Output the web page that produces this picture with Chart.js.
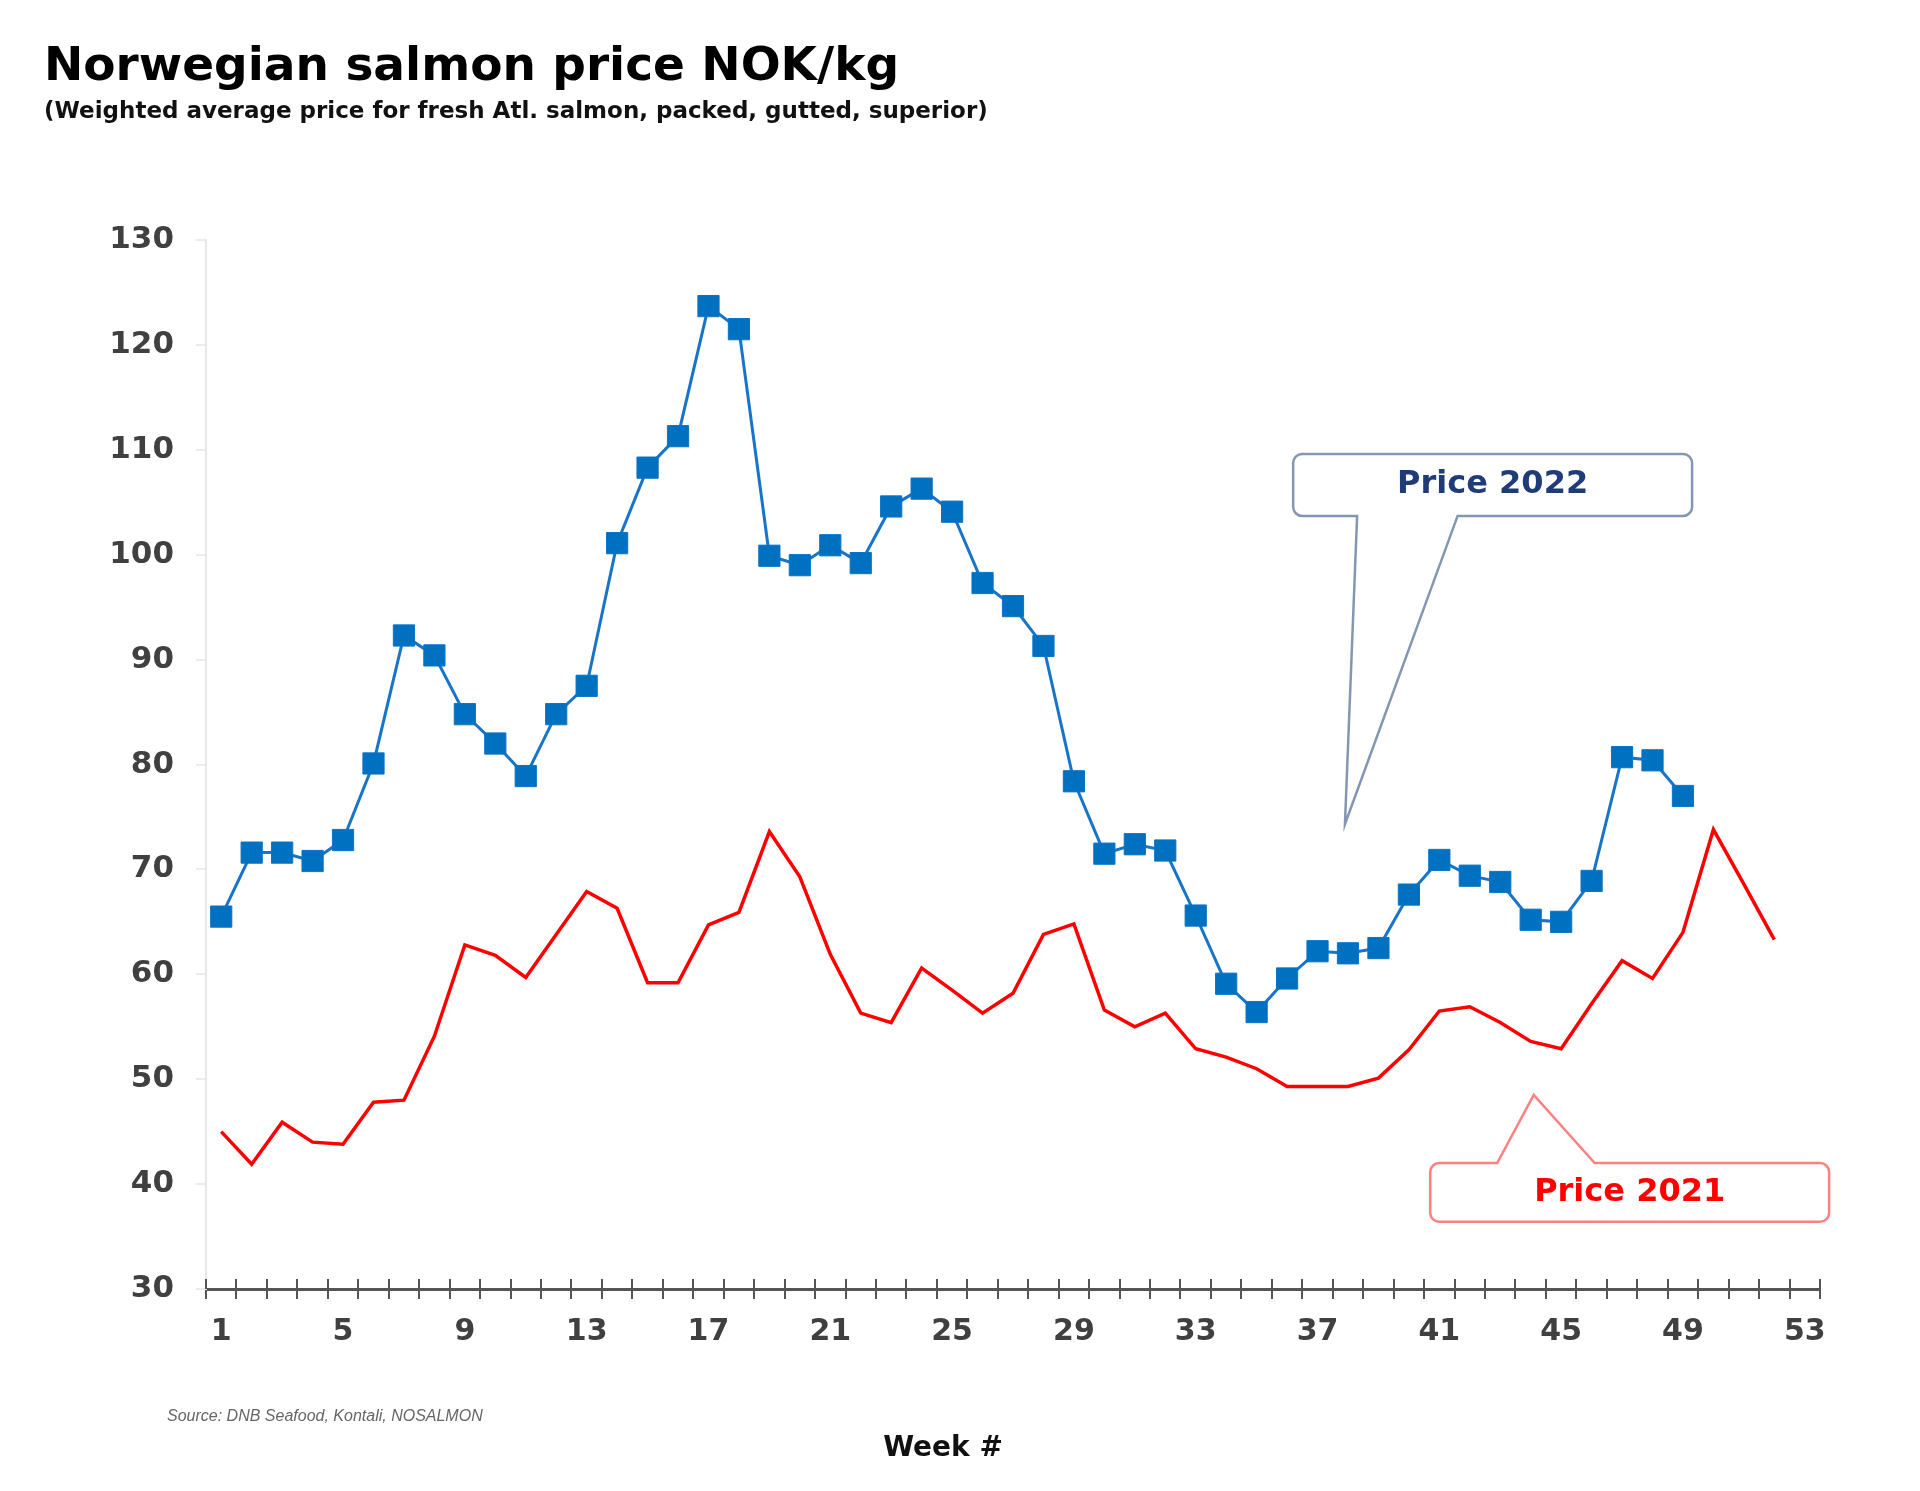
<!DOCTYPE html>
<html>
<head>
<meta charset="utf-8">
<script src="https://cdn.jsdelivr.net/npm/chart.js@4.4.1/dist/chart.umd.min.js"></script>
<style>
  html, body { margin: 0; padding: 0; background: #fff; }
  #wrap { width: 1920px; height: 1491px; position: relative; }
</style>
</head>
<body>
<div id="wrap"><canvas id="salmonChart"></canvas></div>
<script>
    // week labels on the x axis (only every 4th one is shown)
    const weeks = ['1', '2', '3', '4', '5', '6', '7', '8', '9', '10', '11', '12', '13', '14', '15', '16', '17', '18',
        '19', '20', '21', '22', '23', '24', '25', '26', '27', '28', '29', '30', '31', '32', '33', '34', '35', '36',
        '37', '38', '39', '40', '41', '42', '43', '44', '45', '46', '47', '48', '49', '50', '51', '52', '53'];

    // NOK/kg, weeks 1-49 of 2022
    const price2022 = [65.5, 71.6, 71.6, 70.8, 72.8, 80.1, 92.3, 90.4, 84.8, 82.0, 78.9, 84.8, 87.5, 101.1, 108.3,
        111.3, 123.7, 121.5, 99.9, 99.0, 100.9, 99.2, 104.6, 106.3, 104.1, 97.3, 95.1, 91.3, 78.4, 71.5, 72.4, 71.8,
        65.6, 59.1, 56.4, 59.6, 62.2, 62.0, 62.5, 67.6, 70.9, 69.4, 68.8, 65.2, 65.0, 68.9, 80.7, 80.4, 77.0];

    // NOK/kg, weeks 1-52 of 2021
    const price2021 = [45.0, 41.9, 45.9, 44.0, 43.8, 47.8, 48.0, 54.1, 62.8, 61.8, 59.7, 63.8, 67.9, 66.3, 59.2,
        59.2, 64.7, 65.9, 73.6, 69.3, 61.9, 56.3, 55.4, 60.6, 58.5, 56.3, 58.2, 63.8, 64.8, 56.6, 55.0, 56.3, 52.9,
        52.1, 51.0, 49.3, 49.3, 49.3, 50.1, 52.8, 56.5, 56.9, 55.4, 53.6, 52.9, 57.2, 61.3, 59.6, 64.0, 73.8, 68.6, 63.3];

    const yTicks = [30, 40, 50, 60, 70, 80, 90, 100, 110, 120, 130];

    // callout boxes, in week / price units
    const callouts = [
        { text: 'Price 2022', color: '#1f3c78', stroke: '#8497b0',
          box: [36.2, 109.6, 49.3, 103.7], base: [38.3, 41.6], tip: [37.9, 74.3], side: 'bottom' },
        { text: 'Price 2021', color: '#ff0000', stroke: '#ff8080',
          box: [40.7, 42.0, 53.8, 36.4], base: [42.9, 46.1], tip: [44.1, 48.5], side: 'top' }
    ];

    const FONT = "'DejaVu Sans', Verdana, sans-serif";

    function weekPx(chart, w) {
        const s = chart.scales.x;
        const p0 = s.getPixelForValue(0), p1 = s.getPixelForValue(1);
        return p0 + (w - 1) * (p1 - p0);
    }

    const extras = {
        id: 'extras',
        afterDatasetsDraw(chart) {
            const ctx = chart.ctx;
            const y = chart.scales.y;
            const area = chart.chartArea;

            // upper half of the x axis tick marks
            ctx.save();
            ctx.strokeStyle = '#555';
            ctx.lineWidth = 2;
            for (let i = 0; i <= weeks.length; i++) {
                const x = Math.round(weekPx(chart, i + 0.5));
                ctx.beginPath();
                ctx.moveTo(x, area.bottom);
                ctx.lineTo(x, area.bottom - 10);
                ctx.stroke();
            }
            ctx.restore();

            // callouts
            callouts.forEach(c => {
                const x0 = weekPx(chart, c.box[0]), x1 = weekPx(chart, c.box[2]);
                const y0 = y.getPixelForValue(c.box[1]), y1 = y.getPixelForValue(c.box[3]);
                const b0 = weekPx(chart, c.base[0]), b1 = weekPx(chart, c.base[1]);
                const tx = weekPx(chart, c.tip[0]), ty = y.getPixelForValue(c.tip[1]);
                const r = 9;
                ctx.save();
                ctx.beginPath();
                ctx.moveTo(x0 + r, y0);
                if (c.side === 'top') {
                    ctx.lineTo(b0, y0);
                    ctx.lineTo(tx, ty);
                    ctx.lineTo(b1, y0);
                }
                ctx.lineTo(x1 - r, y0);
                ctx.arcTo(x1, y0, x1, y0 + r, r);
                ctx.lineTo(x1, y1 - r);
                ctx.arcTo(x1, y1, x1 - r, y1, r);
                if (c.side === 'bottom') {
                    ctx.lineTo(b1, y1);
                    ctx.lineTo(tx, ty);
                    ctx.lineTo(b0, y1);
                }
                ctx.lineTo(x0 + r, y1);
                ctx.arcTo(x0, y1, x0, y1 - r, r);
                ctx.lineTo(x0, y0 + r);
                ctx.arcTo(x0, y0, x0 + r, y0, r);
                ctx.closePath();
                ctx.fillStyle = '#fff';
                ctx.fill();
                ctx.strokeStyle = c.stroke;
                ctx.lineWidth = 2.5;
                ctx.stroke();
                ctx.fillStyle = c.color;
                ctx.font = 'bold 32px ' + FONT;
                ctx.textAlign = 'center';
                ctx.textBaseline = 'middle';
                ctx.fillText(c.text, (x0 + x1) / 2, (y0 + y1) / 2);
                ctx.restore();
            });

            // source note and axis caption
            ctx.save();
            ctx.fillStyle = '#666';
            ctx.font = "italic 16px 'Liberation Sans', Arial, sans-serif";
            ctx.textBaseline = 'middle';
            ctx.fillText('Source: DNB Seafood, Kontali, NOSALMON', 167, 1417);
            ctx.fillStyle = '#111';
            ctx.font = 'bold 28px ' + FONT;
            ctx.textAlign = 'center';
            ctx.fillText('Week #', 943, 1449);
            ctx.restore();
        }
    };

    document.addEventListener('DOMContentLoaded', function () {
        const ctx = document.getElementById('salmonChart');
        new Chart(ctx, {
            type: 'line',
            data: {
                labels: weeks,
                datasets: [{
                    label: 'Price 2021',
                    data: price2021,
                    borderColor: '#ff0000',
                    borderWidth: 3.5,
                    pointRadius: 0,
                    tension: 0
                }, {
                    label: 'Price 2022',
                    data: price2022,
                    borderColor: '#1874c8',
                    borderWidth: 3,
                    pointStyle: 'rect',
                    pointRadius: 15,
                    pointBackgroundColor: '#0070c0',
                    pointBorderColor: '#0a74c6',
                    pointBorderWidth: 1,
                    tension: 0
                }]
            },
            options: {
                responsive: true,
                maintainAspectRatio: false,
                animation: false,
                layout: { padding: { left: 44, right: 100, top: 0, bottom: 20 } },
                plugins: {
                    legend: { display: false },
                    tooltip: { enabled: false },
                    title: {
                        display: true,
                        text: 'Norwegian salmon price NOK/kg',
                        align: 'start',
                        color: '#000',
                        font: { family: FONT, size: 47, weight: 'bold' },
                        padding: { top: 40, bottom: 0 }
                    },
                    subtitle: {
                        display: true,
                        text: '(Weighted average price for fresh Atl. salmon, packed, gutted, superior)',
                        align: 'start',
                        color: '#111',
                        font: { family: FONT, size: 23, weight: 'bold' },
                        padding: { top: 2, bottom: 114 }
                    }
                },
                scales: {
                    x: {
                        offset: true,
                        afterFit: s => { s.height = 182; },
                        border: { color: '#555', width: 3 },
                        grid: { offset: true, drawOnChartArea: false, color: '#555', lineWidth: 2, tickLength: 10 },
                        ticks: {
                            autoSkip: false,
                            maxRotation: 0,
                            padding: 15,
                            color: '#404040',
                            font: { family: FONT, size: 30, weight: 'bold' },
                            callback: function (v, i) { return i % 4 === 0 ? weeks[i] : ''; }
                        }
                    },
                    y: {
                        min: yTicks[0],
                        max: yTicks[yTicks.length - 1],
                        afterFit: s => { s.width = 162; },
                        afterBuildTicks: s => { s.ticks = yTicks.map(v => ({ value: v })); },
                        border: { color: '#e8e8e8', width: 2 },
                        grid: { drawOnChartArea: false, color: '#ececec', lineWidth: 2, tickLength: 10 },
                        ticks: {
                            padding: 22,
                            color: '#404040',
                            font: { family: FONT, size: 31, weight: 'bold' }
                        }
                    }
                }
            },
            plugins: [extras]
        });
    });
</script>
</body>
</html>
